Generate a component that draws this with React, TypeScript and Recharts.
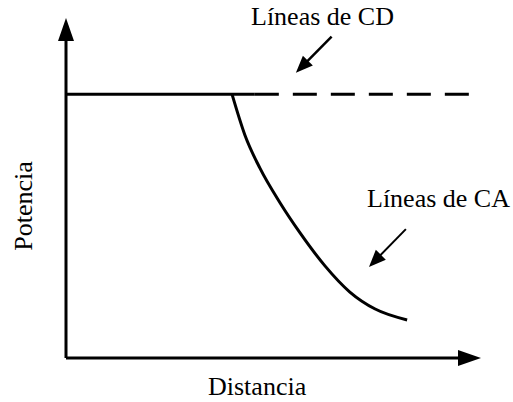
import { LineChart, Line, XAxis, YAxis, ReferenceLine } from "recharts";

// power vs distance, both in % of axis length
const plateau = 77.6;
const cdSolidDistance = [0, 45.5];
const cdDashedDistance = [45.5, 97.1];
const acDistance = [40, 43.1, 46.7, 51.6, 56.4, 62.4, 68.4, 74.5, 82.2];
const acPower = [77.6, 65.6, 55.9, 45.6, 36.8, 27.1, 19.4, 14.4, 11.2];

// annotation arrows: [from, to] in data units
const cdArrow = [
  { x: 64.0, y: 94.5 },
  { x: 55.4, y: 83.9 },
];
const caArrow = [
  { x: 81.9, y: 37.9 },
  { x: 73.0, y: 26.8 },
];

const cdSolid = cdSolidDistance.map((x) => ({ x, y: plateau }));
const cdDashed = cdDashedDistance.map((x) => ({ x, y: plateau }));
const acCurve = acDistance.map((x, i) => ({ x, y: acPower[i] }));

const FONT = '"Liberation Serif", "Times New Roman", serif';

function arrowShape(headLen: number, headHalf: number, width: number) {
  return (p: any) => {
    const { x1, y1, x2, y2 } = p;
    const dx = x2 - x1;
    const dy = y2 - y1;
    const len = Math.sqrt(dx * dx + dy * dy) || 1;
    const ux = dx / len;
    const uy = dy / len;
    const bx = x2 - ux * headLen;
    const by = y2 - uy * headLen;
    const pts = [
      `${x2},${y2}`,
      `${bx - uy * headHalf},${by + ux * headHalf}`,
      `${bx + uy * headHalf},${by - ux * headHalf}`,
    ].join(" ");
    return (
      <g>
        <line x1={x1} y1={y1} x2={bx + ux} y2={by + uy} stroke="#000" strokeWidth={width} />
        <polygon points={pts} fill="#000" />
      </g>
    );
  };
}

export default function App() {
  return (
    <div style={{ position: "absolute", left: 0, top: 0, background: "#fff" }}>
      <LineChart width={513} height={402} margin={{ top: 18, right: 32, bottom: 44, left: 66 }}>
        <XAxis type="number" dataKey="x" domain={[0, 100]} hide />
        <YAxis type="number" dataKey="y" domain={[0, 100]} hide />
        <ReferenceLine
          segment={[{ x: 0, y: 0 }, { x: 100, y: 0 }]}
          ifOverflow="visible"
          shape={arrowShape(23, 8, 3)}
        />
        <ReferenceLine
          segment={[{ x: 0, y: 0 }, { x: 0, y: 100 }]}
          ifOverflow="visible"
          shape={arrowShape(23, 8, 3)}
        />
        <ReferenceLine segment={cdArrow} ifOverflow="visible" shape={arrowShape(17, 7, 2.5)} />
        <ReferenceLine segment={caArrow} ifOverflow="visible" shape={arrowShape(17, 7, 2)} />
        <Line data={cdSolid} dataKey="y" stroke="#000" strokeWidth={3} dot={false} isAnimationActive={false} />
        <Line
          data={cdDashed}
          dataKey="y"
          stroke="#000"
          strokeWidth={3}
          strokeDasharray="24 14"
          dot={false}
          isAnimationActive={false}
        />
        <Line
          data={acCurve}
          dataKey="y"
          type="monotone"
          stroke="#000"
          strokeWidth={3}
          dot={false}
          isAnimationActive={false}
        />
        <text x={251} y={25} fontFamily={FONT} fontSize={26} fill="#000">
          Líneas de CD
        </text>
        <text x={367} y={207} fontFamily={FONT} fontSize={26} fill="#000">
          Líneas de CA
        </text>
        <text x={208} y={395} fontFamily={FONT} fontSize={26} fill="#000">
          Distancia
        </text>
        <text
          x={32}
          y={206}
          textAnchor="middle"
          transform="rotate(-90, 32, 206)"
          fontFamily={FONT}
          fontSize={26}
          fill="#000"
        >
          Potencia
        </text>
      </LineChart>
    </div>
  );
}
